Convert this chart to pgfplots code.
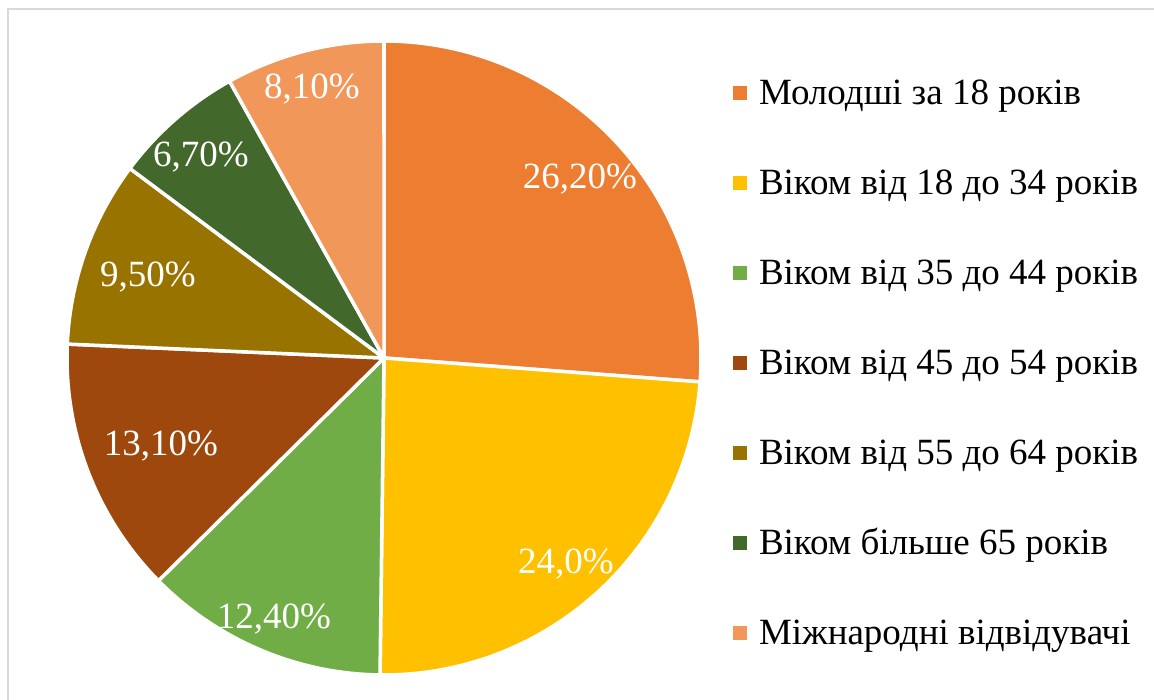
\documentclass[border=0pt]{standalone}
\usepackage{pgfplots}
\pgfplotsset{compat=1.18}
\usepackage{fontspec}
\setmainfont{Liberation Serif}
\definecolor{c1}{HTML}{ED7D31}
\definecolor{c2}{HTML}{FFC000}
\definecolor{c3}{HTML}{70AD47}
\definecolor{c4}{HTML}{9E480E}
\definecolor{c5}{HTML}{997300}
\definecolor{c6}{HTML}{43682B}
\definecolor{c7}{HTML}{F1975A}
\definecolor{frame}{HTML}{D9D9D9}
% slice: #1 colour, #2 cumulative share before, #3 share (percent)
\newcommand{\pieslice}[3]{%
  \addplot[fill=#1, draw=white, line width=3.5pt, line join=round,
    domain={90-3.6*(#2)}:{90-3.6*(#2+#3)}, samples=80, variable=\t]
    ({384+317*cos(\t)},{342+317*sin(\t)}) -- (axis cs:384,342) -- cycle;
}
\begin{document}
\begin{tikzpicture}
\begin{axis}[
  x=1pt, y=1pt, xmin=0, xmax=1154, ymin=0, ymax=700,
  hide axis, clip=false,
  legend style={at={(axis cs:733,619)}, anchor=north west, draw=none, fill=none,
    inner sep=0pt, outer sep=0pt,
    font=\fontsize{37}{44}\selectfont, row sep=60pt, column sep=12pt,
    nodes={inner sep=0pt, anchor=west, text height=24pt, text depth=6pt}},
  legend cell align=left,
  legend image code/.code={\fill[#1, draw=none] (0pt,-4pt) rectangle (14pt,10pt);},
]
\coordinate (ll) at (axis cs:0,0);
\coordinate (ur) at (axis cs:1154,700);
\draw[frame, line width=2pt] (axis cs:8,0) -- (axis cs:8,691) -- (axis cs:1154,691);
\pieslice{c1}{0}{26.2}
\pieslice{c2}{26.2}{24.0}
\pieslice{c3}{50.2}{12.4}
\pieslice{c4}{62.6}{13.1}
\pieslice{c5}{75.7}{9.5}
\pieslice{c6}{85.2}{6.7}
\pieslice{c7}{91.9}{8.1}
\legend{Молодші за 18 років, Віком від 18 до 34 років, Віком від 35 до 44 років,
  Віком від 45 до 54 років, Віком від 55 до 64 років, Віком більше 65 років,
  Міжнародні відвідувачі}
\begin{scope}[every node/.style={text=white, font=\fontsize{37}{44}\selectfont, inner sep=0pt}]
\node at (axis cs:580,521) {26,20\%};
\node at (axis cs:566,136) {24,0\%};
\node at (axis cs:274,81) {12,40\%};
\node at (axis cs:161,254) {13,10\%};
\node at (axis cs:148,423) {9,50\%};
\node at (axis cs:201,543) {6,70\%};
\node at (axis cs:312,611) {8,10\%};
\end{scope}
\end{axis}
\pgfresetboundingbox
\useasboundingbox (ll) rectangle (ur);
\end{tikzpicture}
\end{document}
